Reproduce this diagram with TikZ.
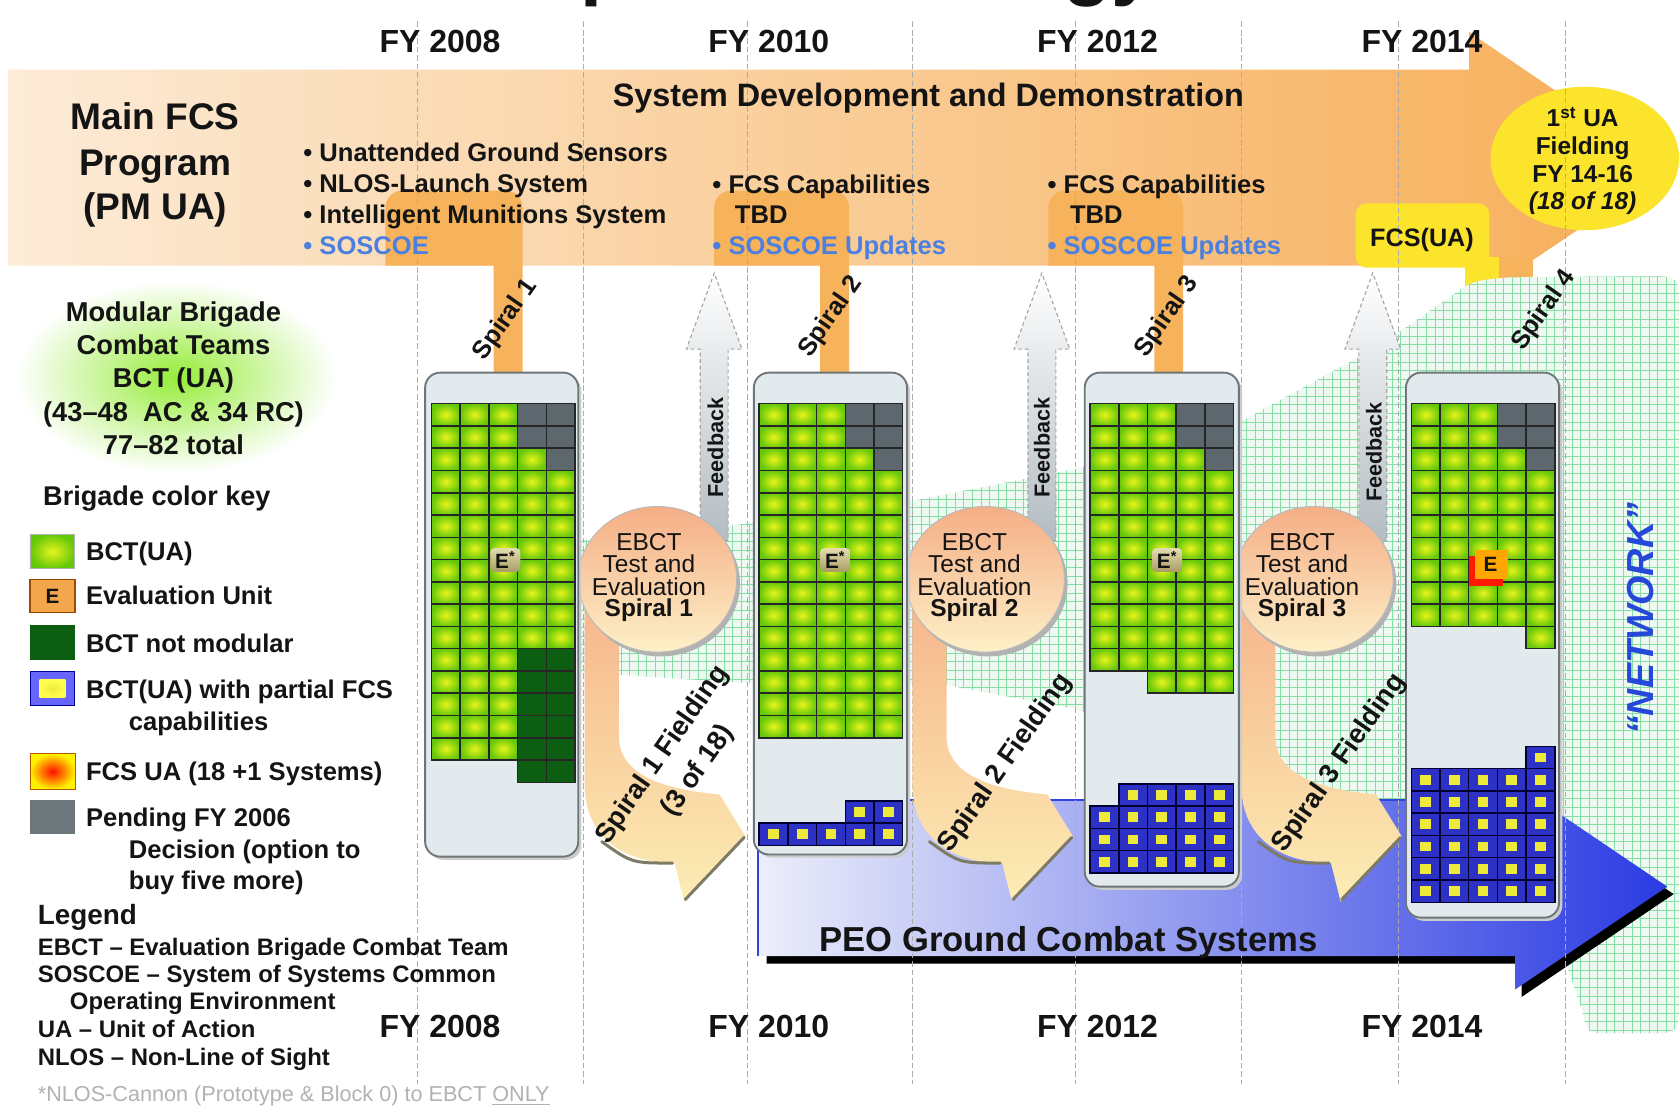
\documentclass[tikz,border=0pt]{standalone}
\usepackage{fontspec}
\setmainfont{Liberation Sans}
\definecolor{arrL}{HTML}{FCEBD7}
\definecolor{arrM}{HTML}{FAD2A3}
\definecolor{arrR}{HTML}{F7AE57}
\definecolor{spir}{HTML}{F6B35C}
\definecolor{ylw}{HTML}{FCE42C}
\definecolor{gYel}{HTML}{E8F41C}
\definecolor{gGrn}{HTML}{66C80A}
\definecolor{grayC}{HTML}{5C686E}
\definecolor{dkG}{HTML}{0B5E12}
\definecolor{bBlue}{HTML}{2E32C4}
\definecolor{bYel}{HTML}{EEEA3C}
\definecolor{boxF}{HTML}{E3EAED}
\definecolor{boxD}{HTML}{6E767A}
\definecolor{sal}{HTML}{F5AE86}
\definecolor{crm}{HTML}{FDF0C8}
\definecolor{fsal}{HTML}{F6B48C}
\definecolor{fcrm}{HTML}{FCEDB4}
\definecolor{fbG}{HTML}{B2BCC2}
\definecolor{netF}{HTML}{EEF9F1}
\definecolor{netL}{HTML}{86DDA6}
\definecolor{blL}{HTML}{ECEEFA}
\definecolor{blM}{HTML}{97A0EE}
\definecolor{blR}{HTML}{2B3BE3}
\definecolor{blE}{HTML}{3344DD}
\definecolor{sosc}{HTML}{4C80E0}
\definecolor{netT}{HTML}{2648D8}
\definecolor{glow}{HTML}{96EC3A}
\definecolor{txt}{HTML}{141414}
\definecolor{eOr}{HTML}{F3A64C}
\definecolor{eTag}{HTML}{D2C47C}
\definecolor{shd}{RGB}{125,122,102}
\newcommand\fsz[1]{\fontsize{#1}{#1}\selectfont}
\tikzset{
  cellb/.style={draw=black!85, line width=0.8pt},
  cellbb/.style={draw=black!80!blue, line width=0.8pt},
  lb/.style={inner sep=0pt, text=txt},
  vline/.style={draw=gray!65, dash pattern=on 3pt off 1.5pt, line width=0.5pt},
  bcell/.style={fill=boxF, draw=boxD, line width=1pt, rounded corners=8pt},
}
\newcommand\cellG[2]{\shade[inner color=gYel,outer color=gGrn] (#1,#2) rectangle ++(26.8,20.8);\draw[cellb] (#1,#2) rectangle ++(26.8,20.8);}
\newcommand\cellP[2]{\fill[grayC] (#1,#2) rectangle ++(26.8,20.8);\draw[cellb] (#1,#2) rectangle ++(26.8,20.8);}
\newcommand\cellD[2]{\fill[dkG] (#1,#2) rectangle ++(26.8,20.8);\draw[cellb] (#1,#2) rectangle ++(26.8,20.8);}
\newcommand\cellB[2]{\fill[bBlue] (#1,#2) rectangle ++(26.8,20.8);\fill[bYel] (#1+8.4,#2+5.8) rectangle ++(10,9.2);\draw[cellbb] (#1,#2) rectangle ++(26.8,20.8);}
\newcommand\cellblk[7]{\foreach \ci in {#4,...,#5}{\foreach \ri in {#6,...,#7}{\pgfmathsetmacro\cxx{#2+(\ci-1)*26.8}\pgfmathsetmacro\cyy{#3+(\ri-1)*20.8}#1{\cxx}{\cyy}}}}
\begin{document}
\begin{tikzpicture}[x=0.02cm,y=-0.02cm]
\useasboundingbox (0,0) rectangle (1568,1033);
\fill[white] (0,0) rectangle (1568,1033);
% clipped title
\begin{scope}
\clip (0,0) rectangle (1568,1033);
\node[lb, anchor=base west, font=\bfseries\fsz{42}] (title) at (300,-9) {Development Strategy};
\end{scope}
% legend glow
\shade[inner color=glow, outer color=white] (15,262) rectangle (315,442);
% top arrow
\shade[left color=arrL, middle color=arrM, right color=arrR] (8,65) -- (1372,65) -- (1372,30) -- (1559,157) -- (1372,283) -- (1372,248) -- (8,248) -- cycle;
% spiral shapes
\foreach \a/\b/\cc in {360/461/488, 667/766/793, 979/1078/1105} {
  \fill[spir] (\a,248) [rounded corners=9pt] -- (\a,178) -- (\cc,178) [sharp corners] -- (\cc,360) -- (\b,360) -- (\b,248) -- cycle;
}
\fill[spir] (1400,240) rectangle (1432,360);
\fill[ylw] (1368,240) rectangle (1400,360);
\fill[ylw, rounded corners=6pt] (1266,190) rectangle (1391,250);
\fill[ylw] (1480,148) ellipse [x radius=88, y radius=67];
% network grid
\def\netpath{(540,505) -- (690,490) -- (851,468) -- (1004,438) -- (1160,393) -- (1290,322) -- (1350,280) .. controls (1375,262) .. (1410,259) -- (1538,258) .. controls (1568,258) .. (1568,288) -- (1568,935) .. controls (1568,965) .. (1538,965) -- (1505,965) .. controls (1482,965) .. (1478,945) -- (1456,880) -- (1300,800) -- (1160,722) -- (1004,662) -- (885,640) -- (700,638) -- (540,628) -- cycle}
\begin{scope}
\clip \netpath;
\fill[netF] (530,250) rectangle (1570,970);
\foreach \x in {532,540,...,1570} \draw[netL, line width=0.35pt] (\x,250) -- (\x,970);
\foreach \y in {250,258,...,970} \draw[netL, line width=0.35pt] (530,\y) -- (1570,\y);
\end{scope}
% blue arrow
\fill[black] (716,754) -- (1421,754) -- (1421,739) -- (1563,835) -- (1421,931) -- (1421,900) -- (716,900) -- cycle;
\shade[left color=blL, middle color=blM, right color=blR] (708,747) -- (1415,747) -- (1415,732) -- (1557,828) -- (1415,924) -- (1415,893) -- (708,893) -- cycle;
\draw[blE, line width=1.2pt] (708,893) -- (708,747) -- (1415,747);
% vertical lines
\foreach \x in {390,545,698,852,1004,1159,1306,1462} \draw[vline] (\x,20) -- (\x,1012);
% feedback arrows
\foreach \cc in {667,973,1282} {
  \shadedraw[top color=white, bottom color=fbG, draw=gray!70, dash pattern=on 2pt off 1.5pt, line width=0.6pt] (\cc-13,505) -- (\cc-13,326) -- (\cc-26,326) -- (\cc,255) -- (\cc+26,326) -- (\cc+13,326) -- (\cc+13,505) -- cycle;
}
% fielding arrows
\foreach \o in {0,306,613} {
  \shade[top color=fsal, bottom color=fcrm] (546+\o,555) -- (546+\o,735) .. controls (548+\o,788) and (590+\o,806) .. (630+\o,806) -- (639+\o,842) -- (696+\o,781) -- (672+\o,742) .. controls (630+\o,738) and (580+\o,728) .. (578+\o,690) -- (578+\o,555) -- cycle;
  \draw[shd, line width=1.6pt, line cap=round] (562+\o,786) .. controls (590+\o,806) .. (628+\o,806);
  \draw[shd, line width=1.6pt, line cap=round] (640+\o,840) -- (695+\o,782);
}
% ellipses
\foreach \o in {0,306,613} {
  \fill[black!30] (617+\o,545) ellipse [x radius=74, y radius=68];
  \shadedraw[top color=sal, bottom color=crm, draw=gray!55, line width=0.5pt] (614+\o,541) ellipse [x radius=74, y radius=68];
}
% boxes
\fill[black!20, rounded corners=8pt] (400,351) rectangle (543,803);
\fill[black!20, rounded corners=8pt] (707,351) rectangle (850,801);
\fill[black!20, rounded corners=8pt] (1016,351) rectangle (1160,831);
\fill[black!20, rounded corners=8pt] (1316,351) rectangle (1459,860);
\path[bcell] (397,348) rectangle (540,800);
\path[bcell] (704,348) rectangle (847,798);
\path[bcell] (1013,348) rectangle (1157,828);
\path[bcell] (1313,348) rectangle (1456,857);
% box 1 cells
\cellblk\cellG{403}{377}{1}{3}{1}{16}
\cellblk\cellG{403}{377}{4}{4}{3}{11}
\cellblk\cellG{403}{377}{5}{5}{4}{11}
\cellblk\cellP{403}{377}{4}{5}{1}{2}
\cellblk\cellP{403}{377}{5}{5}{3}{3}
\cellblk\cellD{403}{377}{4}{5}{12}{17}
% box 2 cells
\cellblk\cellG{709}{377}{1}{3}{1}{15}
\cellblk\cellG{709}{377}{4}{4}{3}{15}
\cellblk\cellG{709}{377}{5}{5}{4}{15}
\cellblk\cellP{709}{377}{4}{5}{1}{2}
\cellblk\cellP{709}{377}{5}{5}{3}{3}
\cellblk\cellB{709}{748}{4}{5}{1}{1}
\cellblk\cellB{709}{748}{1}{5}{2}{2}
% box 3 cells
\cellblk\cellG{1018}{377}{1}{3}{1}{12}
\cellblk\cellG{1018}{377}{3}{3}{13}{13}
\cellblk\cellG{1018}{377}{4}{4}{3}{13}
\cellblk\cellG{1018}{377}{5}{5}{4}{13}
\cellblk\cellP{1018}{377}{4}{5}{1}{2}
\cellblk\cellP{1018}{377}{5}{5}{3}{3}
\cellblk\cellB{1018}{732}{2}{5}{1}{1}
\cellblk\cellB{1018}{732}{1}{5}{2}{4}
% box 4 cells
\cellblk\cellG{1318}{377}{1}{3}{1}{10}
\cellblk\cellG{1318}{377}{4}{4}{3}{10}
\cellblk\cellG{1318}{377}{5}{5}{4}{11}
\cellblk\cellP{1318}{377}{4}{5}{1}{2}
\cellblk\cellP{1318}{377}{5}{5}{3}{3}
\cellblk\cellB{1318}{697}{5}{5}{1}{1}
\cellblk\cellB{1318}{697}{1}{5}{2}{7}
% E tags
\foreach \ex/\nm in {472/e1, 780/e2, 1090/e3} {
  \node[lb, shade, top color=eTag!60!white, bottom color=eTag!80!black, rounded corners=2pt, minimum width=0.56cm, minimum height=0.44cm, font=\bfseries\fsz{11}] (\nm) at (\ex,523) {E\textsuperscript{*}};
}
\fill[red!80!orange] (1372,519) rectangle (1404,547);
\fill[orange!70!yellow] (1377,514) rectangle (1408,541);
\node[lb, font=\bfseries\fsz{11}] (e4) at (1392,527) {E};
% top labels
\foreach \x/\yr in {411/2008, 718/2010, 1025/2012, 1328/2014} {
  \node[lb, anchor=base, font=\bfseries\fsz{17}] (fyt\yr) at (\x,49) {FY \yr};
  \node[lb, anchor=base, font=\bfseries\fsz{17}] (fyb\yr) at (\x,969) {FY \yr};
}
\node[lb, anchor=base, font=\bfseries\fsz{17.2}] (sdd) at (867,99) {System Development and Demonstration};
\node[lb, anchor=base, font=\bfseries\fsz{19.7}] (m1) at (145,121) {Main FCS};
\node[lb, anchor=base, font=\bfseries\fsz{19.7}] (m2) at (145,164) {Program};
\node[lb, anchor=base, font=\bfseries\fsz{19.7}] (m3) at (145,205) {(PM UA)};
\node[lb, anchor=base west, font=\bfseries\fsz{13.6}] (b1) at (283,151) {\textbullet\ Unattended Ground Sensors};
\node[lb, anchor=base west, font=\bfseries\fsz{13.6}] (b2) at (283,180) {\textbullet\ NLOS-Launch System};
\node[lb, anchor=base west, font=\bfseries\fsz{13.6}] (b3) at (283,209) {\textbullet\ Intelligent Munitions System};
\node[lb, anchor=base west, text=sosc, font=\bfseries\fsz{13.6}] (b4) at (283,238) {\textbullet\ SOSCOE};
\foreach \xa/\xb/\nm in {665/686/c, 978/999/d} {
  \node[lb, anchor=base west, font=\bfseries\fsz{13.6}] (\nm1) at (\xa,181) {\textbullet\ FCS Capabilities};
  \node[lb, anchor=base west, font=\bfseries\fsz{13.6}] (\nm2) at (\xb,209) {TBD};
  \node[lb, anchor=base west, text=sosc, font=\bfseries\fsz{13.6}] (\nm3) at (\xa,238) {\textbullet\ SOSCOE Updates};
}
\node[lb, anchor=base, font=\bfseries\fsz{13.4}] (fcsua) at (1328,230) {FCS(UA)};
\node[lb, anchor=base, font=\bfseries\fsz{13}] (u1) at (1478,118) {1\textsuperscript{st} UA};
\node[lb, anchor=base, font=\bfseries\fsz{13}] (u2) at (1478,144) {Fielding};
\node[lb, anchor=base, font=\bfseries\fsz{13}] (u3) at (1478,170) {FY 14-16};
\node[lb, anchor=base, font=\bfseries\itshape\fsz{13}] (u4) at (1478,196) {(18 of 18)};
% spiral labels
\node[lb, rotate=55, font=\bfseries\fsz{13.5}] (s1) at (472,299) {Spiral 1};
\node[lb, rotate=55, font=\bfseries\fsz{13.5}] (s2) at (776,296) {Spiral 2};
\node[lb, rotate=55, font=\bfseries\fsz{13.5}] (s3) at (1090,296) {Spiral 3};
\node[lb, rotate=55, font=\bfseries\fsz{13.5}] (s4) at (1442,290) {Spiral 4};
% feedback labels
\node[lb, rotate=90, font=\bfseries\fsz{11.5}] (fb1) at (668,418) {Feedback};
\node[lb, rotate=90, font=\bfseries\fsz{11.5}] (fb2) at (973,418) {Feedback};
\node[lb, rotate=90, font=\bfseries\fsz{11.5}] (fb3) at (1283,422) {Feedback};
% ellipse texts
\foreach \tx/\n in {606/1, 910/2, 1216/3} {
  \node[lb, anchor=base, font=\fsz{13}] (ea\n) at (\tx,514) {EBCT};
  \node[lb, anchor=base, font=\fsz{13}] (eb\n) at (\tx,535) {Test and};
  \node[lb, anchor=base, font=\fsz{13}] (ec\n) at (\tx,556) {Evaluation};
  \node[lb, anchor=base, font=\bfseries\fsz{13}] (ed\n) at (\tx,576) {Spiral \n};
}
% fielding labels
\node[lb, rotate=55, font=\bfseries\fsz{14.5}] (f1) at (619,705) {Spiral 1 Fielding};
\node[lb, rotate=55, font=\bfseries\fsz{14.5}] (f1b) at (652,720) {(3 of 18)};
\node[lb, rotate=55, font=\bfseries\fsz{14.5}] (f2) at (939,713) {Spiral 2 Fielding};
\node[lb, rotate=55, font=\bfseries\fsz{14.5}] (f3) at (1251,713) {Spiral 3 Fielding};
\node[lb, anchor=base, font=\bfseries\fsz{18.4}] (peo) at (998,889) {PEO Ground Combat Systems};
\node[lb, rotate=90, text=netT, font=\bfseries\itshape\fsz{20}] (net) at (1532,578) {“NETWORK”};
% legend
\node[lb, anchor=base, font=\bfseries\fsz{14.5}] (g1) at (162,300) {Modular Brigade};
\node[lb, anchor=base, font=\bfseries\fsz{14.5}] (g2) at (162,331) {Combat Teams};
\node[lb, anchor=base, font=\bfseries\fsz{14.5}] (g3) at (162,362) {BCT (UA)};
\node[lb, anchor=base, font=\bfseries\fsz{14.5}] (g4) at (162,394) {(43–48~~AC \& 34 RC)};
\node[lb, anchor=base, font=\bfseries\fsz{14.5}] (g5) at (162,424) {77–82 total};
\node[lb, anchor=base west, font=\bfseries\fsz{14.4}] (key) at (40,472) {Brigade color key};
\shade[inner color=gYel, outer color=gGrn] (28,499) rectangle (70,531);
\draw[gray!60, line width=0.5pt] (28,499) rectangle (70,531);
\filldraw[fill=eOr, draw=orange!60!black, line width=0.6pt] (28,541) rectangle (70,572);
\node[lb, font=\bfseries\fsz{11}] (ekey) at (49,557) {E};
\fill[dkG] (28,584) rectangle (70,616);
\fill[blue!60!white] (28,627) rectangle (70,659);
\shade[inner color=bYel, outer color=yellow!70!white] (37,635) rectangle (61,651);
\draw[blue!60!black, line width=0.5pt] (28,627) rectangle (70,659);
\shade[inner color=red!90!orange, outer color=yellow!90!orange] (28,704) rectangle (70,737);
\draw[orange!70!black, line width=0.4pt] (28,704) rectangle (70,737);
\fill[grayC!90!white] (28,747) rectangle (70,779);
\node[lb, anchor=base west, font=\bfseries\fsz{13.6}] (k1) at (80,523) {BCT(UA)};
\node[lb, anchor=base west, font=\bfseries\fsz{13.6}] (k2) at (80,565) {Evaluation Unit};
\node[lb, anchor=base west, font=\bfseries\fsz{13.6}] (k3) at (80,609) {BCT not modular};
\node[lb, anchor=base west, font=\bfseries\fsz{13.6}] (k4) at (80,652) {BCT(UA) with partial FCS};
\node[lb, anchor=base west, font=\bfseries\fsz{13.6}] (k4b) at (120,682) {capabilities};
\node[lb, anchor=base west, font=\bfseries\fsz{13.6}] (k5) at (80,729) {FCS UA (18 +1 Systems)};
\node[lb, anchor=base west, font=\bfseries\fsz{13.6}] (k6) at (80,772) {Pending FY 2006};
\node[lb, anchor=base west, font=\bfseries\fsz{13.6}] (k6b) at (120,802) {Decision (option to};
\node[lb, anchor=base west, font=\bfseries\fsz{13.6}] (k6c) at (120,831) {buy five more)};
\node[lb, anchor=base west, font=\bfseries\fsz{14.8}] (leg) at (35,863) {Legend};
\node[lb, anchor=base west, font=\bfseries\fsz{12.7}] (l1) at (35,892) {EBCT – Evaluation Brigade Combat Team};
\node[lb, anchor=base west, font=\bfseries\fsz{12.7}] (l2) at (35,918) {SOSCOE – System of Systems Common};
\node[lb, anchor=base west, font=\bfseries\fsz{12.7}] (l2b) at (65,943) {Operating Environment};
\node[lb, anchor=base west, font=\bfseries\fsz{12.7}] (l3) at (35,969) {UA – Unit of Action};
\node[lb, anchor=base west, font=\bfseries\fsz{12.7}] (l4) at (35,995) {NLOS – Non-Line of Sight};
\node[lb, anchor=base west, text=gray!60, font=\fsz{11.5}] (foot) at (35,1029) {*NLOS-Cannon (Prototype \& Block 0) to EBCT \underline{ONLY}};
\end{tikzpicture}
\end{document}
